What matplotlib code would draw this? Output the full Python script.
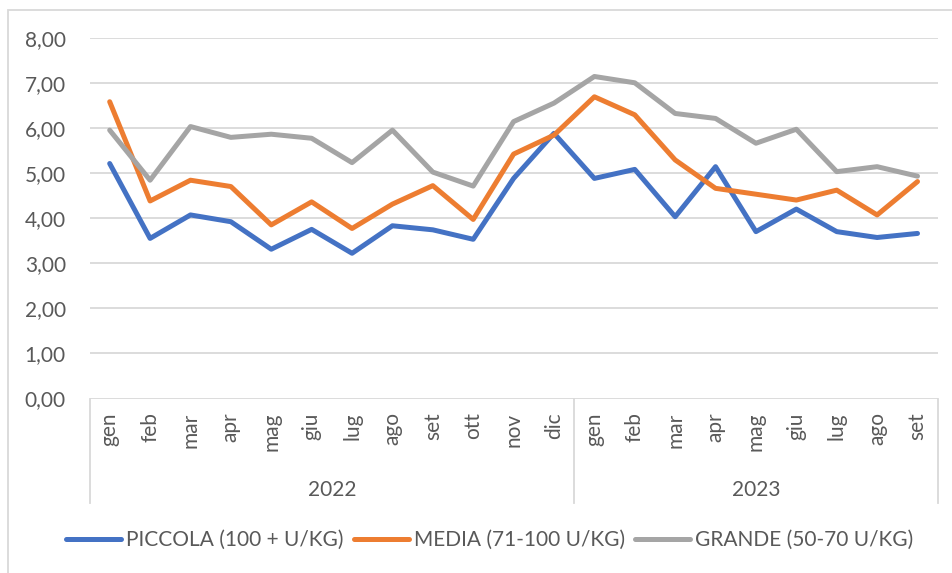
import matplotlib.pyplot as plt
from matplotlib.patches import Rectangle
from matplotlib.lines import Line2D
from matplotlib.transforms import blended_transform_factory

## data
mesi = ['gen', 'feb', 'mar', 'apr', 'mag', 'giu', 'lug', 'ago', 'set', 'ott', 'nov', 'dic',
        'gen', 'feb', 'mar', 'apr', 'mag', 'giu', 'lug', 'ago', 'set']
anni = ['2022', '2023']
mesi_per_anno = [12, 9]

piccola = [5.21, 3.55, 4.07, 3.92, 3.31, 3.75, 3.22, 3.83, 3.74, 3.53, 4.88, 5.88,
           4.88, 5.08, 4.03, 5.14, 3.70, 4.20, 3.70, 3.57, 3.66]
media = [6.58, 4.38, 4.84, 4.70, 3.85, 4.36, 3.77, 4.31, 4.72, 3.97, 5.42, 5.84,
         6.69, 6.29, 5.29, 4.66, 4.53, 4.40, 4.62, 4.07, 4.81]
grande = [5.95, 4.84, 6.03, 5.79, 5.86, 5.77, 5.23, 5.95, 5.02, 4.71, 6.14, 6.55,
          7.14, 7.00, 6.32, 6.21, 5.66, 5.97, 5.03, 5.14, 4.93]

serie = [('PICCOLA (100 + U/KG)', piccola, '#4472C4'),
         ('MEDIA (71-100 U/KG)', media, '#ED7D31'),
         ('GRANDE (50-70 U/KG)', grande, '#A5A5A5')]

plt.rcParams['font.family'] = ['Lato', 'DejaVu Sans']
testo = '#595959'
griglia = '#D9D9D9'
W, H = 952, 573

fig = plt.figure(figsize=(W / 100, H / 100), dpi=100)
ax = fig.add_axes([89.5 / W, 1 - 398.5 / H, (937.7 - 89.5) / W, (398.5 - 37.7) / H])

x = list(range(len(mesi)))
for nome, valori, colore in serie:
    ax.plot(x, valori, color=colore, lw=3.6, label=nome, solid_capstyle='round', solid_joinstyle='round')

ax.set_xlim(-0.5, len(mesi) - 0.5)
ax.set_ylim(0, 8)
ax.set_yticks(range(0, 9))
ax.set_yticklabels(['%d,00' % v for v in range(0, 9)])
ax.grid(axis='y', color=griglia, lw=1.3)
ax.set_axisbelow(True)
for s in ax.spines.values():
    s.set_visible(False)
ax.tick_params(axis='y', length=0, pad=17, labelsize=15, labelcolor=testo)
ax.set_xticks(x)
ax.set_xticklabels(mesi, rotation=90)
ax.tick_params(axis='x', length=0, pad=10, labelsize=15, labelcolor=testo)

## separators and year labels of the two-level category axis
tr = blended_transform_factory(ax.transData, fig.transFigure)
confini = [-0.5]
for n in mesi_per_anno:
    confini.append(confini[-1] + n)
for c in confini:
    fig.add_artist(Line2D([c, c], [1 - 398.5 / H, 1 - 503 / H], transform=tr, color=griglia, lw=1.3))
for i, anno in enumerate(anni):
    centro = (confini[i] + confini[i + 1]) / 2
    fig.text(centro, 1 - 490 / H, anno, transform=tr, ha='center', va='center', fontsize=15, color=testo)

## outer chart frame (cut at right and bottom)
fig.add_artist(Rectangle((7.5 / W, -0.1), 2, 1.1 - 10 / H, transform=fig.transFigure,
                         fill=False, ec=griglia, lw=1.3))

leg = fig.legend(loc='center', bbox_to_anchor=(490 / W, 1 - 540 / H), ncol=3, frameon=False,
                 fontsize=15, handlelength=2.65, handletextpad=0.24, columnspacing=0.48)
for t in leg.get_texts():
    t.set_color(testo)

fig.savefig('out.png', dpi=100)
